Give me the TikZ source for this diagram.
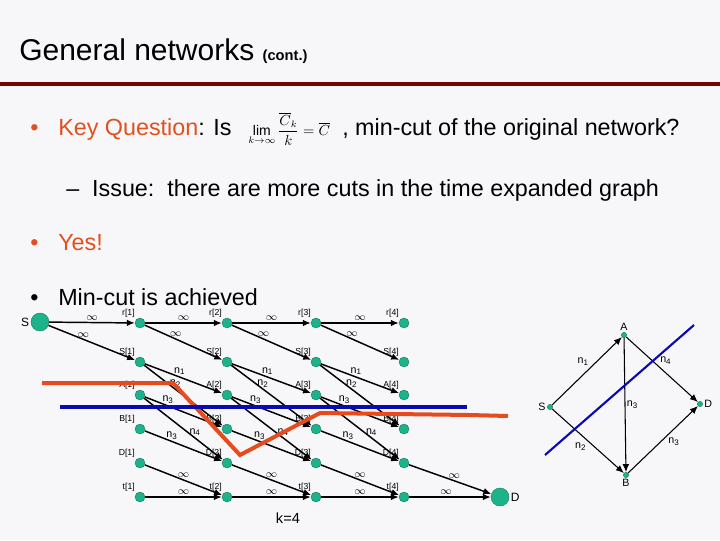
\documentclass[tikz,border=0pt]{standalone}
\usepackage{fontspec}
\setmainfont{Liberation Sans}
\usetikzlibrary{arrows.meta}
\definecolor{bg}{RGB}{247,247,249}
\definecolor{nodeg}{RGB}{28,178,138}
\definecolor{orng}{RGB}{226,80,30}
\definecolor{darkred}{RGB}{120,0,0}
\definecolor{cutred}{RGB}{230,75,30}
\definecolor{cutblue}{RGB}{10,10,180}
\begin{document}
\begin{tikzpicture}[x=0.75pt,y=-0.75pt,
  dot/.style={circle,fill=nodeg,draw=nodeg!70!black,line width=0.3pt,inner sep=0,minimum size=7.5pt},
  bigdot/.style={dot,minimum size=13.5pt},
  sdot/.style={dot,minimum size=4pt},
  lbl/.style={font=\fontsize{6.5}{7}\selectfont,inner sep=1pt},
  el/.style={font=\fontsize{8}{9}\selectfont,inner sep=1pt},
  arr/.style={-{Latex[length=6pt,width=5pt]},line width=1.1pt},
  body/.style={font=\fontsize{17.5}{20}\selectfont,anchor=base west,inner sep=0}]
\fill[bg] (0,0) rectangle (720,540);
\useasboundingbox (0,0) rectangle (720,540);
% title
\node[anchor=base west,inner sep=0,font=\fontsize{22.5}{26}\selectfont] (title) at (19,60) {General networks \fontsize{11}{12}\selectfont\bfseries (cont.)};
\fill[darkred] (0,82) rectangle (720,86);
\node[body,orng] (b1) at (30,135) {•};
\node[body] (q) at (58,135) {\textcolor{orng}{Key Question}: Is};
\node[anchor=west,inner sep=0] (lim) at (248,129) {\fontsize{10.5}{12}\selectfont$\displaystyle\lim_{k\to\infty}\frac{\overline{C}_k}{k}=\overline{C}$};
\node[body] (q2) at (342,135) {, min-cut of the original network?};
\node[body] (iss) at (66,196) {–\ \ Issue:\ \ there are more cuts in the time expanded graph};
\node[body,orng] (b2) at (30,250) {•};
\node[body,orng] (yes) at (58,250) {Yes!};
\node[body] (b3) at (30,305) {•};
\node[body] (mc) at (58,305) {Min-cut is achieved};
% time-expanded graph
\node[bigdot,label={[lbl,font=\fontsize{9}{10}\selectfont]left:S}] (S) at (40,322) {};
\node[bigdot,label={[lbl,font=\fontsize{9}{10}\selectfont]right:D}] (D) at (500,497) {};
\foreach \i/\x in {1/140,2/227,3/316,4/404}{
  \node[dot,label={[lbl]above left:r[\i]}] (r\i) at (\x,323) {};
  \node[dot,label={[lbl]above left:S[\i]}] (s\i) at (\x,362) {};
  \node[dot,label={[lbl]above left:A[\i]}] (a\i) at (\x,395) {};
  \node[dot,label={[lbl]above left:B[\i]}] (b\i) at (\x,429) {};
  \node[dot,label={[lbl]above left:D[\i]}] (d\i) at (\x,463) {};
  \node[dot,label={[lbl]above left:t[\i]}] (t\i) at (\x,497) {};
}
\draw[arr] (S) -- node[el,above]{$\infty$} (r1);
\draw[arr] (S) -- node[el,above,pos=0.4]{$\infty$} (s1);
\foreach \i/\j in {1/2,2/3,3/4}{
  \draw[arr] (r\i) -- node[el,above]{$\infty$} (r\j);
  \draw[arr] (r\i) -- node[el,above,pos=0.4]{$\infty$} (s\j);
  \draw[arr] (s\i) -- node[el,above,pos=0.45]{n\textsubscript{1}} (a\j);
  \draw[arr] (s\i) -- node[el,right,pos=0.3]{n\textsubscript{2}} (b\j);
  \draw[arr] (a\i) -- node[el,above,pos=0.3]{n\textsubscript{3}} (b\j);
  \draw[arr] (a\i) -- node[el,right,pos=0.55]{n\textsubscript{4}} (d\j);
  \draw[arr] (b\i) -- node[el,above,pos=0.35]{n\textsubscript{3}} (d\j);
  \draw[arr] (d\i) -- node[el,above]{$\infty$} (t\j);
  \draw[arr] (t\i) -- node[el,above]{$\infty$} (t\j);
}
\draw[arr] (d4) -- node[el,above,pos=0.55]{$\infty$} (D);
\draw[arr] (t4) -- node[el,above,pos=0.45]{$\infty$} (D);
\node[font=\fontsize{11}{12}\selectfont] (k) at (288,518) {k=4};
% cuts
\draw[cutred,line width=3pt] (42,383) -- (173,383) -- (240,455) -- (320,413) -- (470,415) -- (508,416);
\draw[cutblue,line width=2.5pt] (60,407) -- (467,407);
% right graph
\node[sdot,label={[lbl,font=\fontsize{8}{9}\selectfont]above:A}] (RA) at (624,335) {};
\node[sdot,label={[lbl,font=\fontsize{8}{9}\selectfont]left:S}] (RS) at (550,407) {};
\node[sdot,label={[lbl,font=\fontsize{8}{9}\selectfont]right:D}] (RD) at (700,404) {};
\node[sdot,label={[lbl,font=\fontsize{8}{9}\selectfont]below:B}] (RB) at (626,475) {};
\draw[arr,line width=0.8pt] (RS) -- node[el,above left,pos=0.55]{n\textsubscript{1}} (RA);
\draw[arr,line width=0.8pt] (RA) -- node[el,above right,pos=0.45]{n\textsubscript{4}} (RD);
\draw[arr,line width=0.8pt] (RA) -- node[el,right,pos=0.5]{n\textsubscript{3}} (RB);
\draw[arr,line width=0.8pt] (RS) -- node[el,below left,pos=0.5]{n\textsubscript{2}} (RB);
\draw[arr,line width=0.8pt] (RB) -- node[el,below right,pos=0.55]{n\textsubscript{3}} (RD);
\draw[cutblue,line width=1.6pt] (545,455) -- (694,325);
\end{tikzpicture}
\end{document}
